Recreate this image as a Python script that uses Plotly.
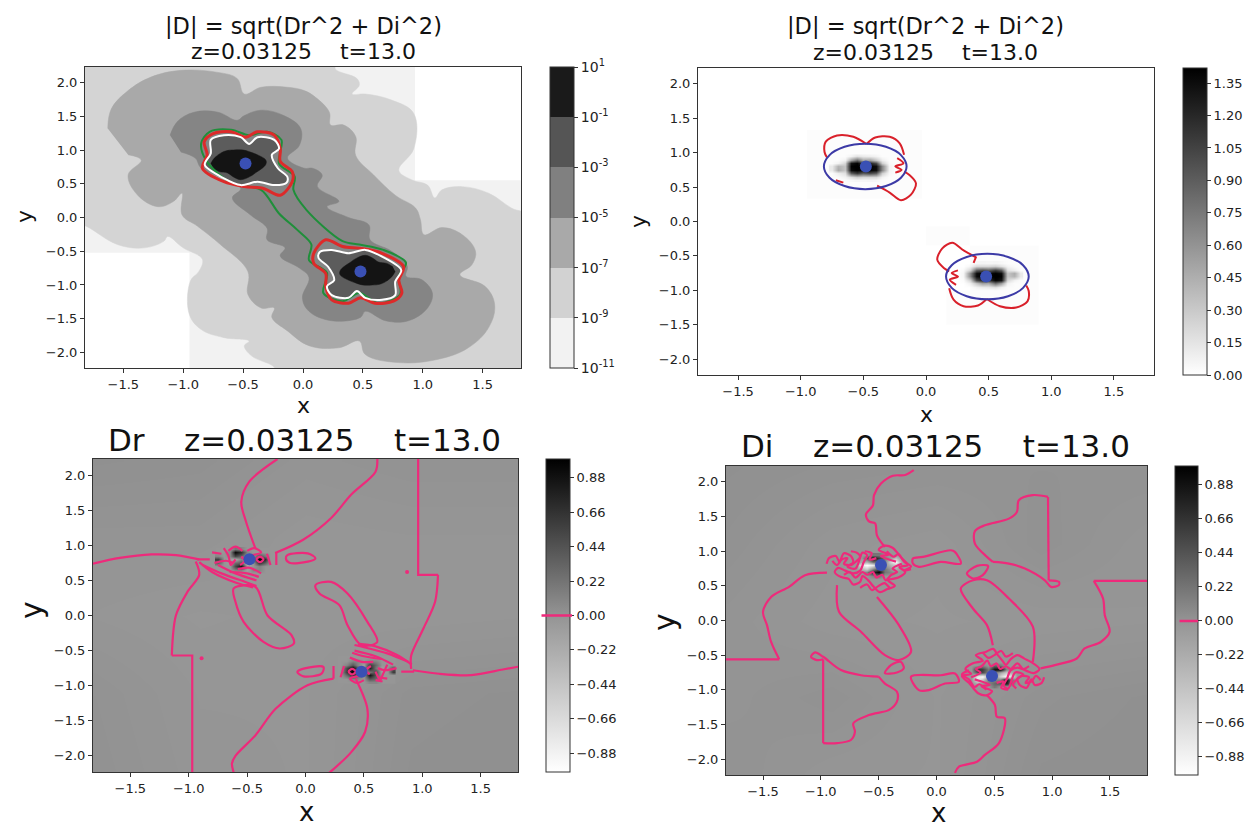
import plotly.graph_objects as go

W, H = 1252, 830
XR = [-1.82, 1.82]
YR = [-2.23, 2.23]
XTICKS = [-1.5, -1.0, -0.5, 0.0, 0.5, 1.0, 1.5]
YTICKS = [-2.0, -1.5, -1.0, -0.5, 0.0, 0.5, 1.0, 1.5, 2.0]

# ---------- panel 1: filled log-contour bands (x, y)
P1_LEVELS = [-11, -9, -7, -5, -3, -1, 1]
P1_LABELS = ["10<sup>-11</sup>", "10<sup>-9</sup>", "10<sup>-7</sup>", "10<sup>-5</sup>", "10<sup>-3</sup>", "10<sup>-1</sup>", "10<sup>1</sup>"]
P1_WHITE_A = [(0.935, 2.3), (1.9, 2.3), (1.9, 0.555), (0.935, 0.555)]
P1_WHITE_B = [(-1.9, -0.525), (-0.95, -0.525), (-0.95, -2.3), (-1.9, -2.3)]
P1_D2 = [(-1.9, 2.3), (0.27, 2.3), (0.27, 2.2), (0.45, 2.06), (0.47, 1.96), (0.41, 1.83), (0.52, 1.83), (0.74, 1.74), (0.925, 1.54),
         (0.925, 1.02), (0.80, 0.70), (0.91, 0.556), (1.04, 0.48), (1.10, 0.29), (1.16, 0.41), (1.33, 0.457), (1.55, 0.36),
         (1.74, 0.14), (1.9, 0.0), (1.9, -2.3), (-0.24, -2.3), (-0.24, -2.22), (-0.43, -2.05), (-0.49, -1.90), (-0.45, -1.83),
         (-0.66, -1.78), (-0.85, -1.66), (-0.95, -1.43), (-0.94, -0.94), (-0.87, -0.80), (-0.84, -0.62), (-1.0, -0.45),
         (-1.13, -0.28), (-1.16, -0.35), (-1.325, -0.45), (-1.55, -0.40), (-1.81, -0.13), (-1.9, -0.08)]
P1_A9 = [(-1.63, 1.32), (-1.60, 1.61), (-1.46, 1.88), (-1.27, 2.08), (-1.02, 2.18), (-0.71, 2.15), (-0.55, 2.06), (-0.49, 1.83),
         (-0.35, 1.93), (-0.13, 1.93), (0.01, 1.88), (0.105, 1.78), (0.22, 1.56), (0.23, 1.37), (0.34, 1.37), (0.44, 1.20),
         (0.44, 0.92), (0.59, 0.63), (0.77, 0.33), (0.94, 0.14), (0.98, -0.03), (1.01, -0.255), (1.16, -0.15), (1.33, -0.255),
         (1.44, -0.50), (1.41, -0.70), (1.31, -0.85), (1.52, -1.02), (1.60, -1.29), (1.55, -1.63), (1.38, -1.93), (1.13, -2.10),
         (0.80, -2.15), (0.52, -2.03), (0.47, -1.83), (0.30, -1.93), (0.05, -1.90), (-0.13, -1.68), (-0.26, -1.48), (-0.24, -1.34),
         (-0.35, -1.34), (-0.46, -1.14), (-0.46, -0.80), (-0.69, -0.40), (-0.88, -0.13), (-1.01, 0.04), (-1.01, 0.36), (-1.08, 0.24),
         (-1.21, 0.16), (-1.38, 0.33), (-1.46, 0.63), (-1.35, 0.85), (-1.46, 0.93)]
P1_80 = [(-1.11, 1.22), (-1.05, 1.42), (-0.91, 1.56), (-0.71, 1.56), (-0.55, 1.44), (-0.49, 1.51), (-0.35, 1.59), (-0.16, 1.51),
         (-0.02, 1.32), (-0.03, 1.07), (-0.13, 0.88), (0.01, 0.73), (0.08, 0.73), (0.16, 0.63), (0.12, 0.46), (0.30, 0.24),
         (0.20, 0.16), (0.38, 0.0), (0.55, -0.11), (0.56, -0.33), (0.74, -0.50), (0.87, -0.72), (0.86, -0.87), (0.99, -0.92),
         (1.08, -1.12), (1.04, -1.34), (0.88, -1.53), (0.69, -1.53), (0.52, -1.39), (0.48, -1.48), (0.24, -1.53), (0.05, -1.39),
         (-0.005, -1.19), (0.05, -0.89), (-0.03, -0.75), (-0.19, -0.57), (-0.15, -0.45), (-0.30, -0.33), (-0.30, -0.16), (-0.44, 0.04),
         (-0.59, 0.29), (-0.52, 0.43), (-0.85, 0.73), (-0.90, 0.88), (-1.02, 0.97)]
P1_WHITE_TOP = [(-0.77, 1.15), (-0.66, 1.22), (-0.52, 1.19), (-0.45, 1.09), (-0.38, 1.19), (-0.24, 1.15), (-0.20, 1.02), (-0.26, 0.93),
                (-0.21, 0.73), (-0.13, 0.60), (-0.14, 0.51), (-0.24, 0.48), (-0.38, 0.53), (-0.52, 0.48), (-0.66, 0.58), (-0.82, 0.78), (-0.77, 0.95), (-0.77, 1.15)]
P1_WHITE_BOT = [(0.77, -1.15), (0.66, -1.22), (0.52, -1.19), (0.45, -1.09), (0.38, -1.19), (0.24, -1.15), (0.20, -1.02), (0.26, -0.93),
                (0.21, -0.73), (0.13, -0.60), (0.14, -0.51), (0.24, -0.48), (0.38, -0.53), (0.52, -0.48), (0.66, -0.58), (0.82, -0.78), (0.77, -0.95), (0.77, -1.15)]
P1_RED_TOP = [(-0.825, 1.12), (-0.755, 1.24), (-0.60, 1.27), (-0.48, 1.19), (-0.38, 1.27), (-0.24, 1.22), (-0.19, 1.02), (-0.19, 0.83),
              (-0.09, 0.68), (-0.09, 0.53), (-0.19, 0.33), (-0.33, 0.43), (-0.49, 0.46), (-0.66, 0.53), (-0.84, 0.73), (-0.80, 0.93), (-0.825, 1.12)]
P1_RED_BOT = [(0.825, -1.12), (0.755, -1.24), (0.60, -1.27), (0.48, -1.19), (0.38, -1.27), (0.24, -1.22), (0.19, -1.02), (0.19, -0.83),
              (0.09, -0.68), (0.09, -0.53), (0.19, -0.33), (0.33, -0.43), (0.49, -0.46), (0.66, -0.53), (0.84, -0.73), (0.80, -0.93), (0.825, -1.12)]
P1_GREEN = [(-0.35, 0.41), (-0.20, 0.06), (-0.05, -0.18), (0.07, -0.40), (0.05, -0.63), (0.20, -0.82), (0.17, -1.12), (0.33, -1.24),
            (0.47, -1.12), (0.63, -1.27), (0.81, -1.14), (0.80, -0.87), (0.86, -0.67), (0.67, -0.48), (0.47, -0.40), (0.33, -0.35),
            (0.03, 0.11), (-0.08, 0.41), (-0.07, 0.61), (-0.20, 0.80), (-0.18, 1.15), (-0.30, 1.27), (-0.45, 1.22), (-0.60, 1.30),
            (-0.78, 1.27), (-0.85, 1.10), (-0.81, 0.85), (-0.60, 0.51), (-0.35, 0.41)]
P1_BLACK_TOP = [(-0.77, 0.80), (-0.74, 0.88), (-0.69, 0.95), (-0.64, 0.99), (-0.58, 1.0), (-0.50, 1.0), (-0.44, 0.97), (-0.37, 0.92), (-0.31, 0.85),
                (-0.31, 0.79), (-0.34, 0.73), (-0.39, 0.67), (-0.44, 0.61), (-0.52, 0.56), (-0.58, 0.60), (-0.63, 0.66), (-0.70, 0.68), (-0.75, 0.73)]
P1_BLACK_BOT = [(0.77, -0.80), (0.74, -0.88), (0.69, -0.95), (0.64, -0.99), (0.58, -1.0), (0.50, -1.0), (0.44, -0.97), (0.37, -0.92), (0.31, -0.85),
                (0.31, -0.79), (0.34, -0.73), (0.39, -0.67), (0.44, -0.61), (0.52, -0.56), (0.58, -0.60), (0.63, -0.66), (0.70, -0.68), (0.75, -0.73)]
CENTRE_X = [-0.48, 0.48]
CENTRE_Y = [0.80, -0.80]

# ---------- panel 2
P2_TICKS = [0.0, 0.15, 0.30, 0.45, 0.60, 0.75, 0.90, 1.05, 1.20, 1.35]
P2_FAINT_A = [(-.95, .33), (-.03, .33), (-.03, 1.33), (-.95, 1.33)]
P2_FAINT_B = [(.16, -1.5), (.90, -1.5), (.90, -.35), (0.0, -.35), (0.0, -.07), (.35, -.07), (.35, -1.0), (.16, -1.0)]
P2_TOP_X = [-0.75, -0.70, -0.65, -0.60, -0.55, -0.50, -0.45, -0.40, -0.35, -0.30, -0.25]
P2_TOP_Y = [0.60, 0.65, 0.70, 0.75, 0.80, 0.85, 0.90, 0.95, 1.0]
P2_TOP_Z = [[0, 0, 0, .02, .04, .03, .04, .03, 0, 0, 0],
            [0, .01, .05, .15, .25, .2, .2, .2, .05, 0, 0],
            [0, .08, .15, .9, 1.1, .9, 1.0, .9, .25, .03, 0],
            [.1, .45, .3, 1.35, 1.42, 1.35, 1.4, 1.35, .65, .05, 0],
            [.1, .4, .3, 1.4, 1.42, 1.4, 1.4, 1.35, .65, .05, 0],
            [0, .05, .2, 1.3, 1.4, 1.1, 1.2, 1.0, .25, .02, 0],
            [0, 0, .05, .5, .8, .45, .5, .3, .08, 0, 0],
            [0, 0, 0, .05, .15, .1, .08, .05, 0, 0, 0],
            [0, 0, 0, 0, 0, 0, 0, 0, 0, 0, 0]]
P2_BOT_X = [0.25, 0.30, 0.35, 0.40, 0.45, 0.50, 0.55, 0.60, 0.65, 0.70, 0.75]
P2_BOT_Y = [-1.0, -0.95, -0.90, -0.85, -0.80, -0.75, -0.70, -0.65, -0.60]
P2_BOT_Z = [[0, 0, 0, 0, 0, 0, 0, 0, 0, 0, 0],
            [0, 0, 0, .05, .08, .1, .15, .05, 0, 0, 0],
            [0, 0, .08, .3, .5, .45, .8, .5, .05, 0, 0],
            [0, .02, .25, 1.0, 1.2, 1.1, 1.4, 1.3, .2, .05, 0],
            [0, .05, .65, 1.35, 1.4, 1.4, 1.42, 1.4, .3, .4, .1],
            [0, .05, .65, 1.35, 1.4, 1.35, 1.42, 1.35, .3, .45, .1],
            [0, .03, .25, .9, 1.0, .9, 1.1, .9, .15, .08, 0],
            [0, 0, .05, .2, .2, .2, .25, .15, .05, .01, 0],
            [0, 0, 0, .03, .04, .03, .04, .02, 0, 0, 0]]
P2_BLUE_TOP = [(-.155, .80), (-.2, .965), (-.32, 1.085), (-.485, 1.13), (-.65, 1.085), (-.77, .965), (-.815, .80), (-.77, .635), (-.65, .515), (-.485, .47), (-.32, .515), (-.2, .635), (-.155, .80)]
P2_BLUE_BOT = [(.82, -.80), (.775, -.635), (.655, -.515), (.49, -.47), (.325, -.515), (.205, -.635), (.16, -.80), (.205, -.965), (.325, -1.085), (.49, -1.13), (.655, -1.085), (.775, -.965), (.82, -.80)]
P2_RED = [[(-.475, 1.126), (-.58, 1.23), (-.71, 1.25), (-.80, 1.16), (-.81, 1.01), (-.79, .93)],
          [(-.475, 1.126), (-.405, 1.22), (-.29, 1.23), (-.21, 1.135), (-.175, .97)],
          [(-.39, .52), (-.29, .42), (-.2, .31), (-.12, .39), (-.08, .555), (-.135, .68), (-.175, .725)],
          [(-.23, .92), (-.18, .845), (-.245, .80), (-.195, .75), (-.245, .71)],
          [(-.72, .60), (-.66, .565)],
          [(.485, -1.126), (.59, -1.23), (.72, -1.25), (.81, -1.16), (.82, -1.01), (.80, -.93)],
          [(.485, -1.126), (.415, -1.22), (.30, -1.23), (.22, -1.135), (.185, -.97)],
          [(.40, -.52), (.30, -.42), (.21, -.31), (.13, -.39), (.09, -.555), (.145, -.68), (.185, -.725)],
          [(.24, -.92), (.19, -.845), (.255, -.80), (.205, -.75), (.255, -.71)],
          [(.38, -.60), (.40, -.51)]]

# ---------- panels 3 and 4 colourbar and faint background field
D_TICKS = [-0.88, -0.66, -0.44, -0.22, 0.0, 0.22, 0.44, 0.66, 0.88]
BG_X = [-1.8, -0.9, 0.0, 0.9, 1.8]
BG_Y = [-2.2, -1.1, 0.0, 1.1, 2.2]
P3_BG = [[.015, -.01, -.015, .025, .03], [.01, -.015, -.015, .02, .025], [-.015, -.025, -.02, -.02, -.015], [0, 0, -.02, -.015, -.015], [.025, .02, 0, .01, .01]]
P4_BG = [[.01, -.01, -.015, .025, .03], [0, .015, -.015, .015, .025], [0, -.02, -.025, -.02, -.015], [.015, -.01, -.02, .015, -.01], [.025, .015, .01, .01, .01]]

# ---------- panel 3
P3_X_TOP = [-0.75, -0.70, -0.65, -0.60, -0.55, -0.50, -0.45, -0.40, -0.35, -0.30]
P3_Y_TOP = [0.60, 0.65, 0.70, 0.75, 0.80, 0.85, 0.90, 0.95]
P3_Z_TOP = [[-.015, -.015, -.015, -.015, -.015, -.015, -.015, -.015, -.015, -.015],
            [-.015, -.015, -.015, .1, .1, -.1, .1, .1, -.015, -.015],
            [-.015, -.015, -.015, .5, .9, -.1, -.015, .1, -.015, -.015],
            [.3, -.015, -.1, .3, .4, -.3, -.015, .6, .3, -.015],
            [.6, -.015, -.1, -.2, .1, -.015, .2, .99, .7, -.015],
            [.1, -.015, .1, .5, .3, -.015, -.015, .5, .2, -.015],
            [-.015, -.015, .1, .95, .7, .1, -.015, -.015, -.015, -.015],
            [-.015, -.015, -.015, .2, .1, -.015, -.015, -.015, -.015, -.015]]
P3_X_BOT = [0.30, 0.35, 0.40, 0.45, 0.50, 0.55, 0.60, 0.65, 0.70, 0.75]
P3_Y_BOT = [-0.95, -0.90, -0.85, -0.80, -0.75, -0.70, -0.65, -0.60]
P3_Z_BOT = [[-.015, -.015, -.015, -.015, -.015, .1, .1, -.015, -.015, -.015],
            [-.015, -.015, .1, .1, -.015, .4, .3, -.015, -.015, -.015],
            [-.015, .3, .7, .3, -.015, .9, .4, -.015, -.015, -.015],
            [-.015, .6, .99, .2, -.015, .2, .5, -.1, -.015, .6],
            [-.015, .5, .95, .4, -.1, .8, .2, -.1, -.015, .4],
            [-.015, .1, .4, .1, -.1, .6, .3, -.015, -.015, -.015],
            [-.015, -.015, .1, .1, -.015, .1, .1, -.015, -.015, -.015],
            [-.015, -.015, -.015, -.015, -.015, -.015, -.015, -.015, -.015, -.015]]
P3_LINES = [[(-1.82, .74), (-1.59, .82), (-1.32, .87), (-1.11, .86), (-.91, .80)],
            [(-.94, .77), (-.91, .58), (-1.01, .34), (-1.11, 0), (-1.145, -.57)],
            [(-.43, .96), (-.51, 1.34), (-.55, 1.62), (-.48, 1.91), (-.24, 2.23)],
            [(-.26, .89), (-.02, 1.08), (.22, 1.39), (.39, 1.72), (.60, 2.05), (.615, 2.23)],
            [(1.135, .58), (1.11, .195), (1.01, -.185), (.905, -.57), (.905, -.76)],
            [(.92, -.78), (1.145, -.83), (1.42, -.85), (1.69, -.77), (1.82, -.73)],
            [(-.155, .86), (.02, .885), (.085, .815), (.02, .767), (-.137, .752), (-.168, .815), (-.155, .86)],
            [(-.07, -.805), (-.017, -.757), (.154, -.733), (.137, -.829), (-.017, -.867), (-.07, -.805)],
            [(.085, .433), (.22, .48), (.36, .314), (.53, -.09), (.615, -.376), (.48, -.424), (.36, -.138), (.29, .148), (.12, .314), (.085, .433)],
            [(-.615, .386), (-.43, .41), (-.325, 0), (-.12, -.28), (-.10, -.40), (-.22, -.47), (-.36, -.376), (-.53, -.09), (-.6, .195), (-.615, .386)],
            [(.24, -.90), (.017, -.995), (-.256, -1.33), (-.43, -1.71), (-.6, -2.0), (-.63, -2.11), (-.615, -2.24)],
            [(.43, -.90), (.53, -1.33), (.51, -1.66), (.39, -1.95), (.205, -2.24)],
            [(-.91, .76), (-.80, .62), (-.60, .47), (-.45, .40)],
            [(-.88, .72), (-.72, .60), (-.52, .48), (-.42, .42)],
            [(-.75, .72), (-.60, .60), (-.42, .50)],
            [(-.65, .62), (-.50, .6), (-.40, .55)],
            [(-.58, .66), (-.48, .68), (-.38, .60)],
            [(.91, -.70), (.78, -.56), (.60, -.44), (.45, -.40)],
            [(.88, -.66), (.70, -.54), (.52, -.46), (.42, -.42)],
            [(.75, -.70), (.60, -.58), (.42, -.50)],
            [(.65, -.62), (.50, -.58), (.40, -.53)],
            [(.58, -.66), (.48, -.66), (.38, -.60)],
            [(-.80, .90), (-.72, .88)], [(-.66, .92), (-.60, .98), (-.54, .92)], [(-.78, .75), (-.68, .78), (-.62, .75)],
            [(-.70, .96), (-.66, .85), (-.64, .72), (-.60, .80)], [(-.50, .92), (-.44, .96), (-.38, .90), (-.46, .86)],
            [(-.42, .8), (-.39, .84), (-.36, .8), (-.39, .76), (-.42, .8)], [(-.33, .88), (-.30, .72)], [(-.25, .9), (-.25, .72)],
            [(-.55, .84), (-.52, .78), (-.56, .72)], [(-.93, .8), (-.82, .8)],
            [(.70, -.90), (.62, -.88)], [(.60, -.92), (.66, -.94)], [(.78, -.75), (.68, -.78), (.62, -.75)],
            [(.70, -.70), (.66, -.85), (.64, -.92), (.60, -.80)], [(.50, -.92), (.44, -.96), (.38, -.90), (.46, -.86)],
            [(.37, -.8), (.40, -.84), (.43, -.8), (.40, -.76), (.37, -.8)], [(.30, -.88), (.33, -.72)], [(.24, -.9), (.24, -.72)],
            [(.55, -.84), (.52, -.78), (.56, -.72)], [(.93, -.8), (.82, -.8)]]
P3_STEPS = [[(-1.145, -.57), (-.97, -.57), (-.97, -2.24)], [(.965, 2.23), (.965, .58), (1.135, .58)]]
P3_DOTS_X = [.87, -.89]
P3_DOTS_Y = [.62, -.61]

# ---------- panel 4
P4_X_TOP = [-0.70, -0.65, -0.60, -0.55, -0.50, -0.45, -0.40, -0.35, -0.30]
P4_Y_TOP = [0.60, 0.65, 0.70, 0.75, 0.80, 0.85, 0.90, 0.95]
P4_Z_TOP = [[-.02, -.02, -.02, -.02, -.02, -.02, -.02, -.02, -.02],
            [-.02, -.02, -.02, .1, .2, -.02, -.02, -.02, -.02],
            [-.02, -.02, .1, .7, .95, .2, .1, -.02, -.02],
            [-.02, -.3, -.5, .1, .5, .2, -.02, -.2, -.02],
            [-.02, -.8, -.99, -.8, .1, -.02, -.3, -.5, -.02],
            [-.02, -.2, -.3, .2, .3, .1, -.6, -.95, -.1],
            [-.02, -.02, .4, .95, .6, .2, -.1, -.4, -.02],
            [-.02, -.02, -.02, .2, .2, -.02, -.02, -.02, -.02]]
P4_X_BOT = [0.30, 0.35, 0.40, 0.45, 0.50, 0.55, 0.60, 0.65, 0.70]
P4_Y_BOT = [-0.95, -0.90, -0.85, -0.80, -0.75, -0.70, -0.65, -0.60]
P4_Z_BOT = [[-.02, -.02, -.02, -.02, .2, -.02, -.02, -.02, -.02],
            [-.02, -.2, -.02, .1, .3, .4, .8, .2, -.02],
            [-.02, -.8, -.5, .2, .1, .1, .95, .2, -.02],
            [-.02, -.8, -.99, -.3, .1, -.6, -.99, -.7, -.02],
            [-.02, .4, .5, .1, .2, -.2, -.5, -.2, -.02],
            [-.02, .7, .6, .2, .9, .95, .1, -.02, -.02],
            [-.02, -.02, .1, -.02, .3, .2, -.02, -.02, -.02],
            [-.02, -.02, -.02, -.02, -.02, -.02, -.02, -.02, -.02]]
P4_LINES = [[(-.197, 2.17), (-.27, 2.1), (-.377, 2.09), (-.48, 1.976), (-.54, 1.81), (-.55, 1.66), (-.61, 1.53), (-.584, 1.43), (-.53, 1.40), (-.515, 1.23), (-.446, 1.06)],
            [(-1.36, -.56), (-1.43, -.31), (-1.465, -.07), (-1.5, .125), (-1.43, .34), (-1.275, .486), (-1.137, .654), (-.947, .69)],
            [(-.86, .51), (-.843, .125), (-.653, -.163), (-.446, -.5), (-.325, -.57), (-.22, -.45), (-.325, -.067), (-.515, .34)],
            [(-.446, -.76), (-.394, -.644), (-.31, -.596), (-.283, -.69), (-.342, -.75), (-.446, -.76)],
            [(-.50, -.81), (-.653, -.79), (-.826, -.716), (-.98, -.524), (-1.05, -.46), (-1.085, -.524), (-1.034, -.572), (-.98, -.56)],
            [(-.98, -1.77), (-.86, -1.77), (-.74, -1.725), (-.705, -1.605), (-.72, -1.485), (-.584, -1.365), (-.41, -1.29), (-.342, -1.17), (-.342, -1.03), (-.446, -.91), (-.50, -.81)],
            [(-.22, -.81), (-.152, -1.005), (-.066, -1.005), (.073, -.91), (.194, -.885), (.16, -.764), (.038, -.79), (-.22, -.81)],
            [(.436, -1.077), (.505, -1.22), (.522, -1.39), (.59, -1.41), (.54, -1.77), (.418, -1.94), (.35, -2.04), (.194, -2.11), (.16, -2.2)],
            [(1.36, .572), (1.44, .317), (1.455, .077), (1.497, -.163), (1.42, -.31), (1.28, -.404), (1.213, -.548), (1.023, -.644), (.90, -.69)],
            [(.487, -.356), (.436, -.067), (.315, .173), (.21, .46), (.315, .58), (.436, .58), (.626, .317), (.833, -.09), (.833, -.596)],
            [(.263, .678), (.35, .788), (.446, .788), (.40, .654), (.315, .606), (.263, .678)],
            [(.487, .846), (.626, .822), (.764, .75), (.937, .58), (.99, .486), (1.058, .51), (1.058, .558), (.97, .58)],
            [(.964, 1.784), (.833, 1.81), (.712, 1.736), (.695, 1.567), (.626, 1.47), (.418, 1.375), (.332, 1.29), (.332, 1.11), (.436, .918), (.487, .846)],
            [(-.204, .894), (-.118, .918), (.124, 1.014), (.159, .99), (.21, .822), (.038, .846), (-.152, .774), (-.204, .822), (-.204, .894)],
            [(-.95, .82), (-.93, .9), (-.87, .93), (-.84, .85), (-.80, .97), (-.74, .93), (-.72, .84), (-.77, .78), (-.70, .75), (-.64, .98), (-.60, .94), (-.63, .84), (-.66, .72), (-.72, .68), (-.79, .72), (-.85, .76), (-.88, .70), (-.83, .63), (-.76, .60), (-.72, .52), (-.66, .56), (-.64, .64), (-.59, .58), (-.55, .50), (-.49, .41), (-.43, .45), (-.36, .50), (-.42, .58), (-.33, .62), (-.27, .70), (-.32, .77), (-.25, .80), (-.30, .90), (-.34, .98), (-.38, 1.05), (-.45, 1.08), (-.50, 1.02), (-.41, .95), (-.48, .93), (-.35, .85)],
            [(-.90, .86), (-.86, .80), (-.82, .88), (-.77, .90), (-.80, .82), (-.74, .80), (-.69, .86), (-.66, .92), (-.69, .98), (-.74, 1.0)],
            [(-.80, .66), (-.75, .70), (-.70, .62), (-.64, .70), (-.60, .66), (-.55, .70), (-.52, .62), (-.47, .66), (-.44, .58), (-.39, .66), (-.34, .70), (-.38, .75), (-.30, .82)],
            [(-.43, 1.0), (-.37, .92), (-.33, .96), (-.28, .85), (-.22, .78), (-.28, .72), (-.22, .74)],
            [(-.62, 1.0), (-.56, .97), (-.58, .88), (-.52, .9)],
            [(-.66, .47), (-.60, .52), (-.56, .44), (-.50, .50), (-.45, .54), (-.40, .46)],
            [(.93, -.82), (.91, -.9), (.85, -.93), (.82, -.85), (.78, -.97), (.72, -.93), (.70, -.84), (.75, -.78), (.68, -.75), (.62, -.98), (.58, -.94), (.61, -.84), (.64, -.72), (.70, -.68), (.77, -.72), (.84, -.76), (.89, -.70), (.82, -.60), (.76, -.55), (.70, -.50), (.64, -.56), (.60, -.64), (.57, -.58), (.53, -.50), (.49, -.41), (.43, -.45), (.34, -.50), (.40, -.58), (.31, -.62), (.25, -.70), (.30, -.77), (.22, -.80), (.28, -.90), (.32, -.98), (.36, -1.05), (.43, -1.08), (.48, -1.02), (.39, -.95), (.46, -.93), (.33, -.85)],
            [(.90, -.86), (.86, -.80), (.82, -.88), (.77, -.90), (.80, -.82), (.74, -.80), (.69, -.86), (.66, -.92), (.69, -.98)],
            [(.80, -.66), (.75, -.70), (.70, -.62), (.64, -.70), (.60, -.66), (.55, -.70), (.52, -.62), (.47, -.66), (.44, -.58), (.39, -.66), (.34, -.70), (.38, -.75), (.30, -.82)],
            [(.43, -1.0), (.37, -.92), (.33, -.96), (.28, -.85), (.22, -.78), (.28, -.72)],
            [(.62, -1.0), (.56, -.97), (.58, -.88), (.52, -.9)],
            [(.66, -.47), (.60, -.52), (.56, -.44), (.50, -.50), (.45, -.54), (.40, -.46)]]
P4_STEPS = [[(-1.83, -.56), (-1.36, -.56)], [(-.98, -.56), (-.98, -1.77)], [(.97, .58), (.964, 1.784)], [(1.82, .572), (1.36, .572)]]

# ---------- styles / layout
GRAY_MID = "#949494"
PINK = "#ee2a7b"
BLUE = "#3a50b4"
DIV_SCALE = [[0, "#ffffff"], [0.5, GRAY_MID], [0.75, "#4a4a4a"], [1, "#000000"]]
GRAY_SCALE = [[0, "#ffffff"], [1, "#000000"]]
P1_SCALE = []
P1_COLOURS = ["#f2f2f2", "#d2d2d2", "#a9a9a9", "#808080", "#555555", "#1a1a1a"]
for i, c in enumerate(P1_COLOURS):
    P1_SCALE += [[i / 6, c], [(i + 1) / 6, c]]
BOXES = [(85, 521, 67, 368), (698, 1154, 68, 375), (93, 518, 459, 772), (726, 1147, 466, 775)]
BARS = [(550, 574, 67, 368), (1183, 1207, 68, 375), (546, 570, 459, 772), (1175, 1198, 466, 775)]

fig = go.Figure()


def axes(i):
    return ("x" if i == 0 else f"x{i+1}"), ("y" if i == 0 else f"y{i+1}")


def line(i, pts, color, width=2, shape="spline"):
    xa, ya = axes(i)
    fig.add_trace(go.Scatter(x=[p[0] for p in pts], y=[p[1] for p in pts], mode="lines", xaxis=xa, yaxis=ya,
                             line=dict(color=color, width=width, shape=shape, smoothing=0.9), showlegend=False, hoverinfo="skip"))


def area(i, pts, color, shape="spline"):
    xa, ya = axes(i)
    fig.add_trace(go.Scatter(x=[p[0] for p in pts], y=[p[1] for p in pts], mode="lines", fill="toself", fillcolor=color, xaxis=xa, yaxis=ya,
                             line=dict(color=color, width=0.5, shape=shape, smoothing=1.1), showlegend=False, hoverinfo="skip"))


def centres(i, size=13):
    xa, ya = axes(i)
    fig.add_trace(go.Scatter(x=CENTRE_X, y=CENTRE_Y, mode="markers", xaxis=xa, yaxis=ya,
                             marker=dict(color=BLUE, size=size, line=dict(width=0)), showlegend=False, hoverinfo="skip"))


def cbar(i, tickvals, ticktext=None, fs=13):
    l, r, t, b = BARS[i]
    d = dict(x=l / W, xanchor="left", xref="paper", y=1 - b / H, yanchor="bottom", yref="paper", len=(b - t) / H, lenmode="fraction",
             thickness=r - l, thicknessmode="pixels", xpad=0, ypad=0, outlinewidth=1, outlinecolor="#333333", ticks="outside", ticklen=4,
             tickcolor="#333333", tickvals=tickvals, tickfont=dict(size=fs, family="DejaVu Sans", color="#222222"))
    if ticktext:
        d["ticktext"] = ticktext
    else:
        d["tickformat"] = ".2f"
    return d


# panel 1
fig.add_trace(go.Heatmap(x=XR, y=YR, z=[[-10, -10], [-10, -10]], zmin=-11, zmax=1, colorscale=P1_SCALE, xaxis="x", yaxis="y", hoverinfo="skip",
                         colorbar=cbar(0, P1_LEVELS, P1_LABELS, 14)))
area(0, P1_WHITE_A, "#ffffff", "linear")
area(0, P1_WHITE_B, "#ffffff", "linear")
area(0, P1_D2, "#d4d4d4")
area(0, P1_A9, "#a9a9a9")
area(0, P1_80, "#858585")
area(0, P1_WHITE_TOP, "#5c5c5c")
area(0, P1_WHITE_BOT, "#5c5c5c")
area(0, P1_BLACK_TOP, "#141414")
area(0, P1_BLACK_BOT, "#141414")
line(0, P1_GREEN, "#1f8f3a", 2)
line(0, P1_RED_TOP, "#dd2a2a", 3)
line(0, P1_RED_BOT, "#dd2a2a", 3)
line(0, P1_WHITE_TOP, "#ffffff", 2)
line(0, P1_WHITE_BOT, "#ffffff", 2)
centres(0, 12)

# panel 2
fig.add_trace(go.Heatmap(x=P2_TOP_X, y=P2_TOP_Y, z=P2_TOP_Z, zmin=0, zmax=1.42, zsmooth="best", colorscale=GRAY_SCALE, xaxis="x2", yaxis="y2",
                         hoverinfo="skip", colorbar=cbar(1, P2_TICKS)))
fig.add_trace(go.Heatmap(x=P2_BOT_X, y=P2_BOT_Y, z=P2_BOT_Z, zmin=0, zmax=1.42, zsmooth="best", colorscale=GRAY_SCALE, xaxis="x2", yaxis="y2",
                         hoverinfo="skip", showscale=False))
area(1, P2_FAINT_A, "rgba(0,0,0,0.012)", "linear")
area(1, P2_FAINT_B, "rgba(0,0,0,0.012)", "linear")
for seg in P2_RED:
    line(1, seg, "#d9202a", 2)
line(1, P2_BLUE_TOP, "#3c3aa6", 2)
line(1, P2_BLUE_BOT, "#3c3aa6", 2)
centres(1, 12)

# panel 3
fig.add_trace(go.Heatmap(x=BG_X, y=BG_Y, z=P3_BG, zmin=-1, zmax=1, zsmooth="best", colorscale=DIV_SCALE, xaxis="x3", yaxis="y3", hoverinfo="skip",
                         showscale=False))
fig.add_trace(go.Heatmap(x=P3_X_TOP, y=P3_Y_TOP, z=P3_Z_TOP, zmin=-1, zmax=1, zsmooth="best", colorscale=DIV_SCALE, xaxis="x3", yaxis="y3",
                         hoverinfo="skip", colorbar=cbar(2, D_TICKS)))
fig.add_trace(go.Heatmap(x=P3_X_BOT, y=P3_Y_BOT, z=P3_Z_BOT, zmin=-1, zmax=1, zsmooth="best", colorscale=DIV_SCALE, xaxis="x3", yaxis="y3",
                         hoverinfo="skip", showscale=False))
for seg in P3_LINES:
    line(2, seg, PINK, 2.2)
for seg in P3_STEPS:
    line(2, seg, PINK, 2.2, "linear")
fig.add_trace(go.Scatter(x=P3_DOTS_X, y=P3_DOTS_Y, mode="markers", xaxis="x3", yaxis="y3", marker=dict(color=PINK, size=4), showlegend=False, hoverinfo="skip"))
centres(2, 12)

# panel 4
fig.add_trace(go.Heatmap(x=BG_X, y=BG_Y, z=P4_BG, zmin=-1, zmax=1, zsmooth="best", colorscale=DIV_SCALE, xaxis="x4", yaxis="y4", hoverinfo="skip",
                         showscale=False))
fig.add_trace(go.Heatmap(x=P4_X_TOP, y=P4_Y_TOP, z=P4_Z_TOP, zmin=-1, zmax=1, zsmooth="best", colorscale=DIV_SCALE, xaxis="x4", yaxis="y4",
                         hoverinfo="skip", colorbar=cbar(3, D_TICKS)))
fig.add_trace(go.Heatmap(x=P4_X_BOT, y=P4_Y_BOT, z=P4_Z_BOT, zmin=-1, zmax=1, zsmooth="best", colorscale=DIV_SCALE, xaxis="x4", yaxis="y4",
                         hoverinfo="skip", showscale=False))
for seg in P4_LINES:
    line(3, seg, PINK, 2.2)
for seg in P4_STEPS:
    line(3, seg, PINK, 2.2, "linear")
centres(3, 12)

layout = dict(width=W, height=H, margin=dict(l=0, r=0, t=0, b=0), paper_bgcolor="#ffffff", plot_bgcolor=GRAY_MID,
              font=dict(family="DejaVu Sans", color="#222222"), showlegend=False)
for i, (l, r, t, b) in enumerate(BOXES):
    s = "" if i == 0 else str(i + 1)
    common = dict(showgrid=False, zeroline=False, showline=True, mirror=True, linecolor="#333333", linewidth=1,
                  ticks="outside", ticklen=4, tickcolor="#333333", tickfont=dict(size=13, color="#222222"), tickformat=".1f")
    layout["xaxis" + s] = dict(domain=[l / W, r / W], range=XR, tickvals=XTICKS, anchor="y" + s, **common)
    layout["yaxis" + s] = dict(domain=[1 - b / H, 1 - t / H], range=YR, tickvals=YTICKS, anchor="x" + s, **common)
fig.update_layout(**layout)
fig.update_layout(shapes=[
    dict(type="rect", xref="x2", yref="y2", x0=-1.82, x1=1.82, y0=-2.23, y1=2.23, fillcolor="#ffffff", line=dict(width=0), layer="below"),
])

TEXTS = [("|D| = sqrt(Dr^2 + Di^2)", 303, 26, 22.5, 0), ("z=0.03125    t=13.0", 303, 51, 22, 0),
         ("|D| = sqrt(Dr^2 + Di^2)", 925, 26, 22.5, 0), ("z=0.03125    t=13.0", 925, 52, 22, 0),
         ("Dr    z=0.03125    t=13.0", 304, 440, 31, 0), ("Di    z=0.03125    t=13.0", 935, 446, 31, 0),
         ("x", 303, 405, 22, 0), ("y", 25, 217, 22, -90),
         ("x", 926, 414, 22, 0), ("y", 638, 222, 22, -90),
         ("x", 306, 812, 26, 0), ("y", 31, 610, 30, -90),
         ("x", 938, 813, 26, 0), ("y", 664, 622, 30, -90)]
for txt, px, py, fs, ang in TEXTS:
    fig.add_annotation(text=txt, xref="paper", yref="paper", x=px / W, y=1 - py / H, xanchor="center", yanchor="middle", showarrow=False,
                       textangle=ang, font=dict(size=fs, color="#111111", family="DejaVu Sans"))
# pink zero-level marks on the two colourbars
for x1, dx, py in [(572, -34, 615.5), (1198, -22, 621)]:
    fig.add_annotation(text=" ", xref="paper", yref="paper", x=x1 / W, y=1 - py / H, ax=dx, ay=0, axref="pixel", ayref="pixel", showarrow=True,
                       arrowhead=0, arrowwidth=2.5, arrowcolor=PINK, standoff=0, startstandoff=0)

fig.write_html("out.html", post_script="document.body.style.margin='0';", config={"displayModeBar": False})
